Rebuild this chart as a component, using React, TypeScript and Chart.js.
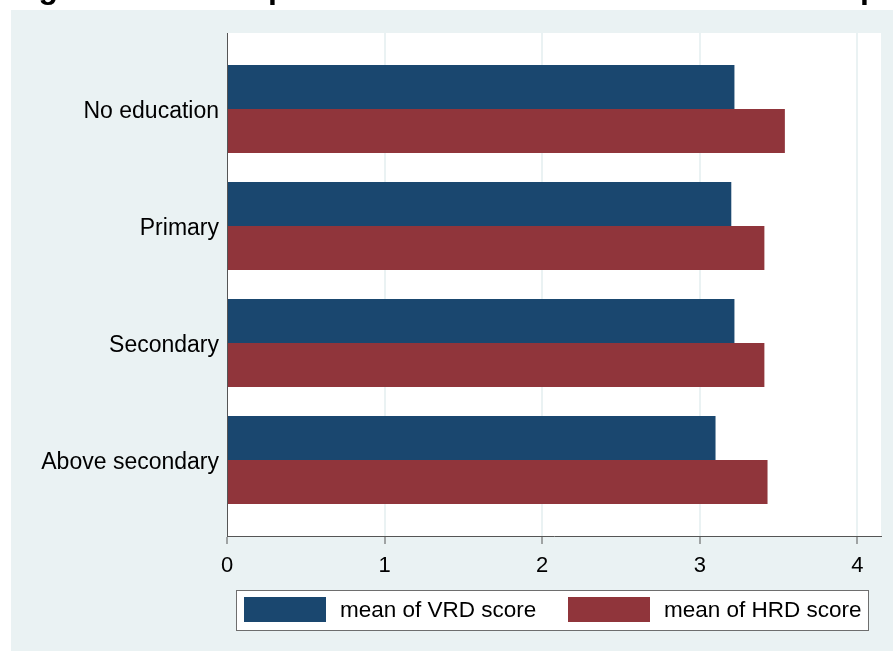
import React, { useEffect, useRef } from "react";
import { Chart, registerables } from "chart.js";

Chart.register(...registerables);

const categories = ["No education", "Primary", "Secondary", "Above secondary"];
const vrdScores = [3.22, 3.2, 3.22, 3.1];
const hrdScores = [3.54, 3.41, 3.41, 3.43];
const seriesLabels = ["mean of VRD score", "mean of HRD score"];
const xTicks = [0, 1, 2, 3, 4];
const titleText = "Figure 4.1: Perception of vertical and horizontal trust depending on education";

const BLUE = "#1a476f";
const RED = "#90353b";
const BG = "#eaf2f3";
const FONT = "'Liberation Sans', Arial, Helvetica, sans-serif";

const framePlugin = {
  id: "stataFrame",
  beforeDraw(chart: any) {
    const { ctx, width, height, chartArea } = chart;
    ctx.save();
    ctx.fillStyle = "#ffffff";
    ctx.fillRect(0, 0, width, height);
    ctx.fillStyle = "#000000";
    ctx.font = `bold 32px ${FONT}`;
    ctx.textBaseline = "alphabetic";
    ctx.textAlign = "left";
    ctx.fillText(titleText, 10, -2);
    ctx.fillStyle = BG;
    ctx.fillRect(11, 10, width - 11, height - 10);
    ctx.fillStyle = "#ffffff";
    ctx.fillRect(chartArea.left, chartArea.top, chartArea.right - chartArea.left, chartArea.bottom - chartArea.top);
    ctx.restore();
  },
  afterDraw(chart: any) {
    const { ctx } = chart;
    ctx.save();
    const bx = 236.5, by = 590.5, bw = 632, bh = 40;
    ctx.fillStyle = "#ffffff";
    ctx.fillRect(bx, by, bw, bh);
    ctx.strokeStyle = "#6e6e6e";
    ctx.lineWidth = 1;
    ctx.strokeRect(bx, by, bw, bh);
    const items = chart.data.datasets.map((d: any, i: number) => ({
      label: d.label,
      color: d.backgroundColor,
      x: i === 0 ? 244 : 568,
    }));
    ctx.font = `22.5px ${FONT}`;
    ctx.textBaseline = "middle";
    ctx.textAlign = "left";
    items.forEach((it: any) => {
      ctx.fillStyle = it.color;
      ctx.fillRect(it.x, 597, 82, 25);
      ctx.fillStyle = "#000000";
      ctx.fillText(it.label, it.x + 96, 611);
    });
    ctx.restore();
  },
};

export default function App() {
  const canvasRef = useRef<HTMLCanvasElement | null>(null);

  useEffect(() => {
    const canvas = canvasRef.current;
    if (!canvas) return;
    const chart = new Chart(canvas, {
      type: "bar",
      data: {
        datasets: [
          {
            label: seriesLabels[0],
            data: vrdScores.map((v, i) => ({ x: v, y: i })),
            backgroundColor: BLUE,
            borderWidth: 0,
          },
          {
            label: seriesLabels[1],
            data: hrdScores.map((v, i) => ({ x: v, y: i })),
            backgroundColor: RED,
            borderWidth: 0,
          },
        ],
      },
      plugins: [framePlugin],
      options: {
        indexAxis: "y",
        animation: false,
        responsive: false,
        maintainAspectRatio: false,
        layout: { padding: { left: 0, top: 33, right: 12, bottom: 75 } },
        datasets: {
          bar: { barPercentage: 1, categoryPercentage: 0.752 },
        },
        plugins: {
          legend: { display: false },
          tooltip: { enabled: false },
          title: { display: false },
        },
        scales: {
          x: {
            type: "linear",
            position: "bottom",
            min: 0,
            max: 4.15,
            afterBuildTicks: (scale: any) => {
              scale.ticks = xTicks.map((v) => ({ value: v }));
            },
            afterFit: (scale: any) => {
              scale.height = 40;
            },
            grid: {
              display: true,
              color: BG,
              lineWidth: 2,
              drawTicks: true,
              tickLength: 8,
              tickColor: "#555555",
              tickWidth: 1,
            },
            border: { display: true, color: "#555555", width: 1 },
            ticks: {
              color: "#000000",
              font: { family: FONT, size: 22 },
              padding: 9,
              maxRotation: 0,
              callback: (v: any) => String(v),
            },
          },
          y: {
            type: "linear",
            position: "left",
            reverse: true,
            min: -0.65,
            max: 3.65,
            offset: false,
            afterBuildTicks: (scale: any) => {
              scale.ticks = categories.map((_, i) => ({ value: i }));
            },
            afterFit: (scale: any) => {
              scale.width = 227;
            },
            grid: { display: false, drawTicks: false },
            border: { display: true, color: "#555555", width: 1 },
            ticks: {
              color: "#000000",
              font: { family: FONT, size: 23 },
              padding: 8,
              labelOffset: 3,
              callback: (v: any) => categories[v as number] ?? "",
            },
          },
        },
      } as any,
    });
    return () => chart.destroy();
  }, []);

  return (
    <div style={{ position: "fixed", left: 0, top: 0, width: 893, height: 651, background: "#ffffff" }}>
      <canvas ref={canvasRef} width={893} height={651} style={{ display: "block", width: 893, height: 651 }} />
    </div>
  );
}
